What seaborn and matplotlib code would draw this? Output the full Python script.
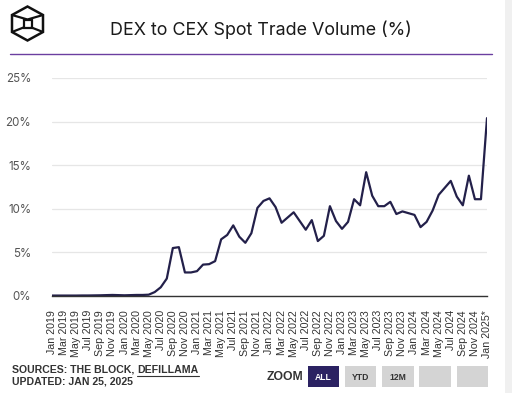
import numpy as np
import pandas as pd
import matplotlib
matplotlib.use("Agg")
import matplotlib.pyplot as plt
from matplotlib.lines import Line2D
from matplotlib.patches import Rectangle, Polygon
import seaborn as sns

# ---- data ----
month_labels = [
    "Jan 2019", "Feb 2019", "Mar 2019", "Apr 2019", "May 2019", "Jun 2019",
    "Jul 2019", "Aug 2019", "Sep 2019", "Oct 2019", "Nov 2019", "Dec 2019",
    "Jan 2020", "Feb 2020", "Mar 2020", "Apr 2020", "May 2020", "Jun 2020",
    "Jul 2020", "Aug 2020", "Sep 2020", "Oct 2020", "Nov 2020", "Dec 2020",
    "Jan 2021", "Feb 2021", "Mar 2021", "Apr 2021", "May 2021", "Jun 2021",
    "Jul 2021", "Aug 2021", "Sep 2021", "Oct 2021", "Nov 2021", "Dec 2021",
    "Jan 2022", "Feb 2022", "Mar 2022", "Apr 2022", "May 2022", "Jun 2022",
    "Jul 2022", "Aug 2022", "Sep 2022", "Oct 2022", "Nov 2022", "Dec 2022",
    "Jan 2023", "Feb 2023", "Mar 2023", "Apr 2023", "May 2023", "Jun 2023",
    "Jul 2023", "Aug 2023", "Sep 2023", "Oct 2023", "Nov 2023", "Dec 2023",
    "Jan 2024", "Feb 2024", "Mar 2024", "Apr 2024", "May 2024", "Jun 2024",
    "Jul 2024", "Aug 2024", "Sep 2024", "Oct 2024", "Nov 2024", "Dec 2024",
    "Jan 2025*",
]
dex_cex_pct = [
    0.05, 0.05, 0.05, 0.05, 0.05, 0.06, 0.06, 0.07, 0.08, 0.10, 0.12, 0.10,
    0.08, 0.10, 0.12, 0.12, 0.15, 0.45, 1.00, 2.00, 5.50, 5.60, 2.70, 2.70,
    2.85, 3.60, 3.65, 4.00, 6.50, 7.00, 8.10, 6.80, 6.10, 7.20, 10.1, 10.9,
    11.2, 10.2, 8.40, 9.00, 9.60, 8.60, 7.60, 8.70, 6.30, 6.90, 10.3, 8.60,
    7.70, 8.50, 11.1, 10.4, 14.2, 11.5, 10.3, 10.3, 10.8, 9.40, 9.70, 9.50,
    9.30, 7.90, 8.50, 9.80, 11.6, 12.4, 13.2, 11.4, 10.4, 13.8, 11.1, 11.1,
    20.4,
]
y_ticks = [0, 5, 10, 15, 20, 25]
y_tick_labels = ["0%", "5%", "10%", "15%", "20%", "25%"]
zoom_buttons = ["ALL", "YTD", "12M", "", ""]

df = pd.DataFrame({"idx": np.arange(len(dex_cex_pct)), "pct": dex_cex_pct})

sns.set_theme(style="white")
plt.rcParams["font.family"] = ["Liberation Sans", "DejaVu Sans"]

W, H = 512, 393
fig = plt.figure(figsize=(W / 100, H / 100), dpi=100)
fig.patch.set_facecolor("white")

def fx(px):
    return px / W

def fy(py):
    return 1 - py / H

ax = fig.add_axes([fx(52), fy(296), fx(487) - fx(52), fy(78) - fy(296)])
sns.lineplot(data=df, x="idx", y="pct", ax=ax, color="#23204a", linewidth=1.6)

ax.set_xlim(0, len(dex_cex_pct) - 1)
ax.set_ylim(0, 25)
ax.set_yticks(y_ticks)
ax.set_yticklabels(y_tick_labels, fontsize=8.3, color="#555555", family=["Inter", "DejaVu Sans"])
tick_idx = list(range(0, len(month_labels), 2))
ax.set_xticks(tick_idx)
ax.set_xticklabels([month_labels[i] for i in tick_idx], rotation=90, fontsize=7.7,
                   color="#333333", va="top", ha="center")
ax.tick_params(axis="y", length=0, pad=15)
ax.tick_params(axis="x", length=0, pad=10)
ax.set_xlabel("")
ax.set_ylabel("")
ax.grid(axis="y", color="#e6e6e6", linewidth=0.9)
ax.grid(axis="x", visible=False)
for s in ["top", "right", "left"]:
    ax.spines[s].set_visible(False)
ax.spines["bottom"].set_color("#333333")
ax.spines["bottom"].set_linewidth(1.0)
ax.set_facecolor("white")

# title
fig.text(fx(261), fy(30), "DEX to CEX Spot Trade Volume (%)", ha="center", va="center",
         fontsize=12.9, color="#1a1a1a", family=["Inter", "DejaVu Sans"])
# purple rule under title
fig.add_artist(Line2D([fx(10), fx(492)], [fy(54), fy(54)], color="#6b3fa0", linewidth=1.0))

# logo (cube icon)
cx, cy = 27.5, 23.5
rx, ry = 15.5, 17
hexv = [(cx, cy - ry), (cx + rx, cy - ry / 2), (cx + rx, cy + ry / 2),
        (cx, cy + ry), (cx - rx, cy + ry / 2), (cx - rx, cy - ry / 2)]
fig.add_artist(Polygon([(fx(a), fy(b)) for a, b in hexv], closed=True, fill=False,
                       edgecolor="#111111", linewidth=1.8))
s = 4
sq = [(cx - s, cy - s), (cx + s, cy - s), (cx + s, cy + s), (cx - s, cy + s)]
fig.add_artist(Polygon([(fx(a), fy(b)) for a, b in sq], closed=True, fill=False,
                       edgecolor="#111111", linewidth=1.6))
fig.add_artist(Line2D([fx(hexv[5][0]), fx(cx), fx(hexv[1][0])],
                      [fy(hexv[5][1]), fy(cy - s), fy(hexv[1][1])], color="#111111", linewidth=1.6))
fig.add_artist(Line2D([fx(hexv[4][0]), fx(cx - s)], [fy(hexv[4][1]), fy(cy + s)],
                      color="#111111", linewidth=1.6))
fig.add_artist(Line2D([fx(hexv[2][0]), fx(cx + s)], [fy(hexv[2][1]), fy(cy + s)],
                      color="#111111", linewidth=1.6))

# right gray strip
fig.add_artist(Rectangle((fx(505), 0), 1 - fx(505), 1, transform=fig.transFigure,
                         facecolor="#f0f0f0", edgecolor="none"))

# footer
fs_foot = 7.6
t1 = fig.text(fx(12), fy(370), "SOURCES: THE BLOCK, ", ha="left", va="center",
              fontsize=fs_foot, fontweight="bold", color="#333333")
fig.canvas.draw()
r = fig.canvas.get_renderer()
bb = t1.get_window_extent(renderer=r)
t2 = fig.text(bb.x1 / W, fy(370), "DEFILLAMA", ha="left", va="center",
              fontsize=fs_foot, fontweight="bold", color="#333333")
fig.canvas.draw()
bb2 = t2.get_window_extent(renderer=r)
fig.add_artist(Line2D([bb2.x0 / W, bb2.x1 / W], [fy(375.5), fy(375.5)], color="#333333", linewidth=0.8))
fig.text(fx(12), fy(382), "UPDATED: JAN 25, 2025", ha="left", va="center",
         fontsize=fs_foot, fontweight="bold", color="#333333")

# zoom buttons
fig.text(fx(267), fy(377), "ZOOM", ha="left", va="center", fontsize=8.8, fontweight="bold", color="#333333")
bx0, bw, gap = 307.5, 31.5, 5.8
for i, lab in enumerate(zoom_buttons):
    x0 = bx0 + i * (bw + gap)
    active = i == 0
    fig.add_artist(Rectangle((fx(x0), fy(387)), fx(bw), fy(366) - fy(387), transform=fig.transFigure,
                             facecolor="#2b2262" if active else "#d4d4d4", edgecolor="none"))
    if lab:
        fig.text(fx(x0 + bw / 2), fy(377), lab, ha="center", va="center", fontsize=6.2,
                 fontweight="bold", color="white" if active else "#333333")

fig.savefig("out.png", dpi=100, facecolor="white")
